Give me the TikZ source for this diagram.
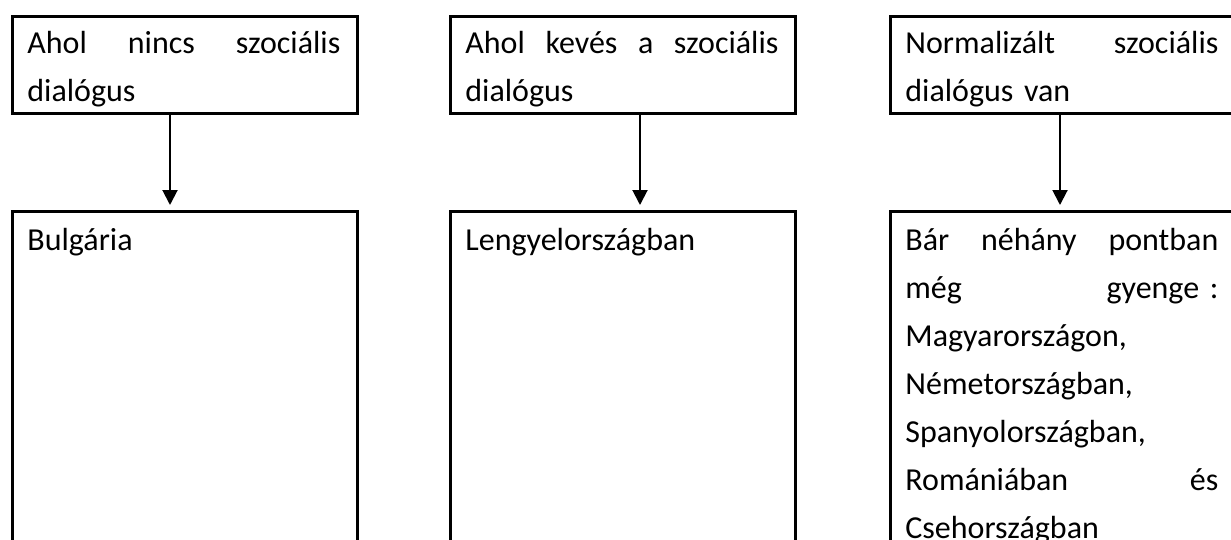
\documentclass[tikz,border=0pt]{standalone}
\usepackage{fontspec}
\setmainfont{Carlito}
\usetikzlibrary{arrows.meta,calc}
\tikzset{
  box/.style={draw, line width=1.5pt, minimum width=172.5pt, anchor=north west, inner sep=0pt},
  txt/.style={anchor=base west, align=left, text width=156.5pt, inner sep=0pt,
    font=\fontsize{16}{24}\selectfont},
  arr/.style={line width=1pt, -{Triangle[width=7.5pt,length=7.5pt]}}
}
\begin{document}
\begin{tikzpicture}[x=0.5pt,y=-0.5pt]
  \useasboundingbox (0,0) rectangle (1231,540);
  \clip (0,0) rectangle (1231,540);

  % Upper boxes
  \node[box, minimum height=48.5pt] (kind1) at (11,15) {};
  \node[box, minimum height=48.5pt] (kind2) at (449,15) {};
  \node[box, minimum height=48.5pt] (kind3) at (889,15) {};

  % Lower boxes (run past the page)
  \node[box, minimum height=200pt] (land1) at (11,210) {};
  \node[box, minimum height=200pt] (land2) at (449,210) {};
  \node[box, minimum height=200pt] (land3) at (889,210) {};

  % Texts
  \node[txt] (kindtext1) at ($(kind1.north west)+(16,39)$)
    {Ahol \hfill nincs \hfill szociális\\dialógus};
  \node[txt] (kindtext2) at ($(kind2.north west)+(16,39)$)
    {Ahol \hfill kevés \hfill a \hfill szociális\\dialógus};
  \node[txt] (kindtext3) at ($(kind3.north west)+(16,39)$)
    {Normalizált \hfill szociális\\dialógus van};
  \node[txt] (landtext1) at ($(land1.north west)+(16,40)$) {Bulgária};
  \node[txt] (landtext2) at ($(land2.north west)+(16,40)$) {Lengyelországban};
  \node[txt] (landtext3) at ($(land3.north west)+(16,40)$)
    {Bár \hfill néhány \hfill pontban\\
     még \hfill gyenge :\\
     Magyarországon,\\
     Németországban,\\
     Spanyolországban,\\
     Romániában \hfill és\\
     Csehországban};

  % Arrows
  \draw[arr] ($(kind1.south west)+(159,0)$) -- ($(land1.north west)+(159,-5)$);
  \draw[arr] ($(kind2.south west)+(191,0)$) -- ($(land2.north west)+(191,-5)$);
  \draw[arr] ($(kind3.south west)+(171,0)$) -- ($(land3.north west)+(171,-5)$);
\end{tikzpicture}
\end{document}
